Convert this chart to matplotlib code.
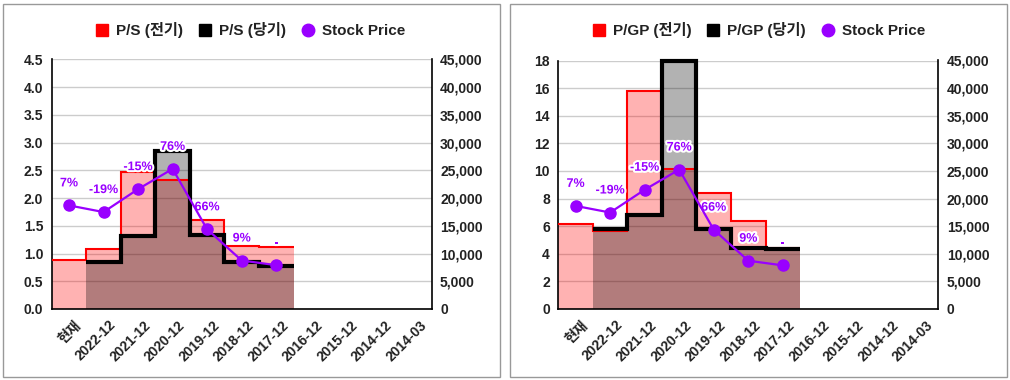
import matplotlib
matplotlib.use("Agg")
import matplotlib.pyplot as plt
from matplotlib.lines import Line2D
from matplotlib.patches import Rectangle
from matplotlib.transforms import ScaledTranslation
import matplotlib.patheffects as pe
from matplotlib.ticker import FuncFormatter, MultipleLocator
import numpy as np

plt.rcParams['font.family'] = ['Liberation Sans', 'Noto Sans CJK KR', 'DejaVu Sans']

categories = ['현재', '2022-12', '2021-12', '2020-12', '2019-12', '2018-12',
              '2017-12', '2016-12', '2015-12', '2014-12', '2014-03']

ps_prev = [0.89, 1.09, 2.47, 2.33, 1.60, 1.14, 1.11]
ps_curr = [0.84, 1.32, 2.84, 1.33, 0.85, 0.78]          # starts at 2022-12
pgp_prev = [6.14, 5.64, 15.78, 10.12, 8.41, 6.41, 4.43]
pgp_curr = [5.76, 6.84, 18.0, 5.76, 4.39, 4.31]          # starts at 2022-12
price = [18670, 17470, 21600, 25250, 14360, 8740, 7900]
change_labels = ['7%', '-19%', '-15%', '76%', '66%', '9%', '-']

PURPLE = '#9900FF'
W, H = 1010, 380

fig = plt.figure(figsize=(W / 100, H / 100), dpi=100)


def panel(x0, top_px, prev, curr, ymax, ystep, yfmt, name, leg_cx):
    left = x0 / W
    width = 380 / W
    bottom = (H - 309) / H
    height = (309 - top_px) / H
    ax = fig.add_axes([left, bottom, width, height])
    n = len(categories)
    ax.set_xlim(-0.5, n - 0.5)
    ax.set_ylim(0, ymax)

    e_prev = np.arange(len(prev) + 1) - 0.5
    e_curr = np.arange(len(curr) + 1) + 0.5
    ax.stairs(prev, e_prev, baseline=0, fill=True, color=(1, 0, 0, 0.3), lw=0, zorder=2)
    ax.stairs(curr, e_curr, baseline=0, fill=True, color=(0, 0, 0, 0.3), lw=0, zorder=2)
    ax.stairs(prev, e_prev, baseline=None, color='red', lw=1.5, zorder=3)
    ax.stairs(curr, e_curr, baseline=None, color='black', lw=3, zorder=4, clip_on=False)

    ax.yaxis.set_major_locator(MultipleLocator(ystep))
    ax.yaxis.set_major_formatter(FuncFormatter(yfmt))
    ax.grid(axis='y', color='#cccccc', lw=1)
    ax.set_axisbelow(True)
    ax.tick_params(axis='x', length=0, pad=10)
    ax.tick_params(axis='y', length=0, pad=6, labelsize=10, labelcolor='#222222')
    ax.set_xticks(range(n))
    ax.set_xticklabels(categories, rotation=45, ha='right', va='center',
                       rotation_mode='anchor', fontsize=10, fontweight='bold', color='#222222')
    shift = ScaledTranslation(10 / 100, 0, fig.dpi_scale_trans)
    for lab in ax.get_xticklabels():
        lab.set_transform(lab.get_transform() + shift)
    for lab in ax.get_yticklabels():
        lab.set_fontweight('bold')
    ax.spines['top'].set_visible(False)
    ax.spines['right'].set_visible(False)
    for s in ('left', 'bottom'):
        ax.spines[s].set_color('black')
        ax.spines[s].set_linewidth(1.2)

    ax2 = ax.twinx()
    ax2.set_ylim(0, 45000)
    ax2.yaxis.set_major_locator(MultipleLocator(5000))
    ax2.yaxis.set_major_formatter(FuncFormatter(lambda v, p: f'{int(v):,}'))
    ax2.tick_params(axis='y', length=0, pad=6, labelsize=10, labelcolor='#222222')
    for lab in ax2.get_yticklabels():
        lab.set_fontweight('bold')
    for s in ('top', 'left', 'bottom'):
        ax2.spines[s].set_visible(False)
    ax2.spines['right'].set_color('black')
    ax2.spines['right'].set_linewidth(1.2)

    xs = np.arange(len(price))
    ax2.plot(xs, price, color=PURPLE, lw=1.6, marker='o', ms=8, zorder=5)
    for x, v, t in zip(xs, price, change_labels):
        ax2.annotate(t, xy=(x, v), xytext=(0, 22), textcoords='offset pixels',
                     ha='center', va='center', fontsize=9, fontweight='bold',
                     color=PURPLE,
                     path_effects=[pe.withStroke(linewidth=3, foreground='white')],
                     arrowprops=dict(arrowstyle='-', color='#dddddd', lw=0.8,
                                     shrinkA=6, shrinkB=0))

    handles = [
        Line2D([], [], ls='none', marker='s', color='red', ms=8.5),
        Line2D([], [], ls='none', marker='s', color='black', ms=8.5),
        Line2D([], [], ls='none', marker='o', color=PURPLE, ms=9),
    ]
    labels = [f'{name} (전기)', f'{name} (당기)', 'Stock Price']
    fig.legend(handles, labels, loc='center', bbox_to_anchor=(leg_cx / W, (H - 30) / H),
               ncol=3, frameon=False, prop={'weight': 'bold', 'size': 11},
               handletextpad=0.4, columnspacing=0.95, handlelength=1.0,
               labelcolor='#222222')


panel(51.7, 59.3, ps_prev, ps_curr, 4.5, 0.5, lambda v, p: f'{v:.1f}', 'P/S', 250)
panel(558.3, 60.5, pgp_prev, pgp_curr, 18, 2, lambda v, p: f'{int(round(v))}', 'P/GP', 758)

for x0, x1 in ((2.5, 500), (509.5, 1007)):
    fig.add_artist(Rectangle((x0 / W, 3.5 / H), (x1 - x0) / W, (376.5 - 3.5) / H,
                             transform=fig.transFigure, fill=False,
                             edgecolor='#999999', lw=1))

fig.savefig('out.png', dpi=100)
